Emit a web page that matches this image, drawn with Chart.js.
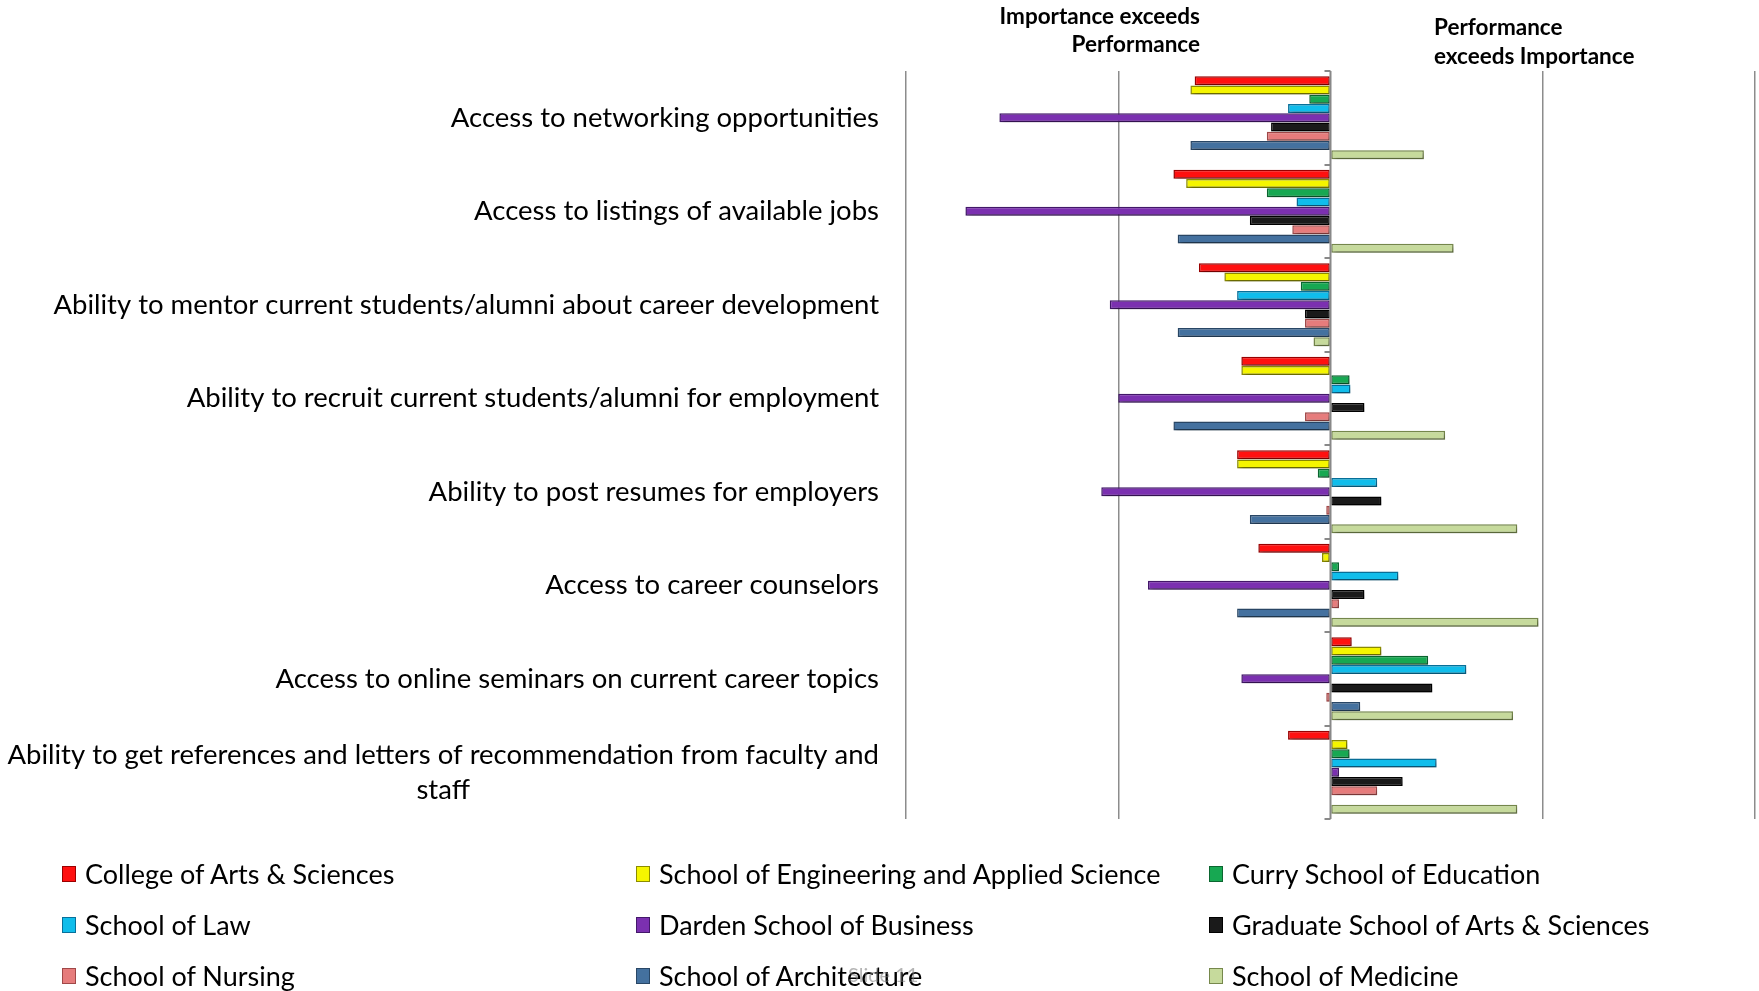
<!DOCTYPE html>
<html>
<head>
<meta charset="utf-8">
<script src="https://cdn.jsdelivr.net/npm/chart.js@4.4.1/dist/chart.umd.min.js"></script>
<style>
  body { margin: 0; background: #fff; }
  #wrap { position: relative; width: 1759px; height: 991px; overflow: hidden; }
  #legend { position: absolute; left: 62px; top: 859px; display: grid;
    grid-template-columns: 574px 573px 560px; row-gap: 22px;
    font-family: Lato, "Noto Sans", sans-serif; font-size: 27px; color: #000; }
  .item { display: flex; align-items: center; height: 29px; white-space: nowrap; }
  .box { width: 14px; height: 16px; margin-right: 9px; border: 1px solid rgba(0,0,0,0.35); box-sizing: border-box; }
  #mark { position: absolute; left: 848px; top: 962px; font-family: Lato, sans-serif;
    font-size: 20px; color: rgba(120,120,120,0.55); }
</style>
</head>
<body>
<div id="wrap">
  <canvas id="chart" width="1759" height="991"></canvas>
  <div id="legend"></div>
  <div id="mark">Slide 11</div>
</div>
<script>
  // Categories, top to bottom
  const categories = [
    'Access to networking opportunities',
    'Access to listings of available jobs',
    'Ability to mentor current students/alumni about career development',
    'Ability to recruit current students/alumni for employment',
    'Ability to post resumes for employers',
    'Access to career counselors',
    'Access to online seminars on current career topics',
    ['Ability to get references and letters of recommendation from faculty and', 'staff']
  ];

  const seriesNames = [
    'College of Arts & Sciences',
    'School of Engineering and Applied Science',
    'Curry School of Education',
    'School of Law',
    'Darden School of Business',
    'Graduate School of Arts & Sciences',
    'School of Nursing',
    'School of Architecture',
    'School of Medicine'
  ];

  // Gap scores (performance minus importance), one value per category
  const artsSciences   = [-0.32, -0.37, -0.31, -0.21, -0.22, -0.17, 0.05, -0.10];
  const engineering    = [-0.33, -0.34, -0.25, -0.21, -0.22, -0.02, 0.12, 0.04];
  const education      = [-0.05, -0.15, -0.07, 0.045, -0.03, 0.02, 0.23, 0.045];
  const law            = [-0.10, -0.08, -0.22, 0.047, 0.11, 0.16, 0.32, 0.25];
  const darden         = [-0.78, -0.86, -0.52, -0.50, -0.54, -0.43, -0.21, 0.02];
  const gradArts       = [-0.14, -0.19, -0.06, 0.08, 0.12, 0.08, 0.24, 0.17];
  const nursing        = [-0.15, -0.09, -0.06, -0.06, -0.01, 0.02, -0.01, 0.11];
  const architecture   = [-0.33, -0.36, -0.36, -0.37, -0.19, -0.22, 0.07, 0];
  const medicine       = [0.22, 0.29, -0.04, 0.27, 0.44, 0.49, 0.43, 0.44];

  const seriesValues = [artsSciences, engineering, education, law, darden, gradArts, nursing, architecture, medicine];

  const fills   = ['#FF1010', '#F5F500', '#17A852', '#10BDEB', '#7B30B0', '#1A1A1A', '#E67C7C', '#44719F', '#C6DA9C'];
  const borders = ['#9A0000', '#8C8C00', '#0B6630', '#08709A', '#43186A', '#000000', '#A04848', '#294766', '#76884C'];

  const gridX = [-1, -0.5, 0.5, 1];

  const FONT = 'Lato, "Noto Sans", sans-serif';

  // soft drop shadow under the bars
  const shadowPlugin = {
    id: 'shadow',
    beforeDatasetsDraw(chart) {
      const ctx = chart.ctx;
      ctx.save();
      ctx.shadowColor = 'rgba(0,0,0,0.3)';
      ctx.shadowBlur = 4;
      ctx.shadowOffsetX = 2;
      ctx.shadowOffsetY = 3;
    },
    afterDatasetsDraw(chart) {
      chart.ctx.restore();
    }
  };

  // Draw category labels (multi-line labels centered under their widest line)
  const labelPlugin = {
    id: 'labels',
    afterDraw(chart) {
      const ctx = chart.ctx;
      const y = chart.scales.y;
      const x = chart.scales.x;
      const zero = x.getPixelForValue(0);
      ctx.save();
      // small tick marks on the zero axis
      ctx.strokeStyle = '#888';
      ctx.lineWidth = 2;
      for (let i = 0; i <= categories.length; i++) {
        const py = Math.round(y.getPixelForValue(i - 0.5));
        ctx.beginPath();
        ctx.moveTo(zero - 6, py);
        ctx.lineTo(zero, py);
        ctx.stroke();
      }
      ctx.beginPath();
      ctx.moveTo(zero, chart.chartArea.top);
      ctx.lineTo(zero, chart.chartArea.bottom);
      ctx.stroke();

      ctx.fillStyle = '#000';
      ctx.font = '27.5px ' + FONT;
      ctx.textBaseline = 'middle';
      ctx.textAlign = 'center';
      const right = 879;
      categories.forEach((lab, i) => {
        const lines = Array.isArray(lab) ? lab : [lab];
        const w = Math.max(...lines.map(l => ctx.measureText(l).width));
        const cy = y.getPixelForValue(i);
        const lh = 35;
        lines.forEach((l, k) => {
          ctx.fillText(l, right - w / 2, cy + (k - (lines.length - 1) / 2) * lh);
        });
      });

      // quadrant captions
      ctx.font = 'bold 22.5px ' + FONT;
      ctx.textAlign = 'right';
      ctx.fillText('Importance exceeds', 1200, 17);
      ctx.fillText('Performance', 1200, 45);
      ctx.textAlign = 'left';
      ctx.fillText('Performance', 1434, 28);
      ctx.fillText('exceeds Importance', 1434, 57);
      ctx.restore();
    }
  };

  new Chart(document.getElementById('chart'), {
    type: 'bar',
    data: {
      labels: categories,
      datasets: seriesNames.map((name, i) => ({
        label: name,
        data: seriesValues[i],
        backgroundColor: fills[i],
        borderColor: borders[i],
        borderWidth: 1.5,
        borderSkipped: false,
        categoryPercentage: 0.89,
        barPercentage: 0.96
      }))
    },
    options: {
      indexAxis: 'y',
      responsive: false,
      animation: false,
      layout: { padding: { left: 906, top: 71, right: 4, bottom: 172 } },
      plugins: { legend: { display: false }, tooltip: { enabled: false } },
      scales: {
        x: {
          min: -1, max: 1,
          afterBuildTicks: (axis) => { axis.ticks = [-1, -0.5, 0, 0.5, 1].map(v => ({ value: v })); },
          ticks: { display: false },
          border: { display: false },
          grid: {
            drawTicks: false,
            color: (c) => (gridX.includes(c.tick.value) ? '#8c8c8c' : 'rgba(0,0,0,0)'),
            lineWidth: 1.5
          }
        },
        y: {
          display: false
        }
      }
    },
    plugins: [shadowPlugin, labelPlugin]
  });

  // HTML legend in three columns
  const legend = document.getElementById('legend');
  seriesNames.forEach((name, i) => {
    const item = document.createElement('div');
    item.className = 'item';
    item.innerHTML = `<span class="box" style="background:${fills[i]};border-color:${borders[i]}"></span><span>${name}</span>`;
    legend.appendChild(item);
  });
</script>
</body>
</html>
